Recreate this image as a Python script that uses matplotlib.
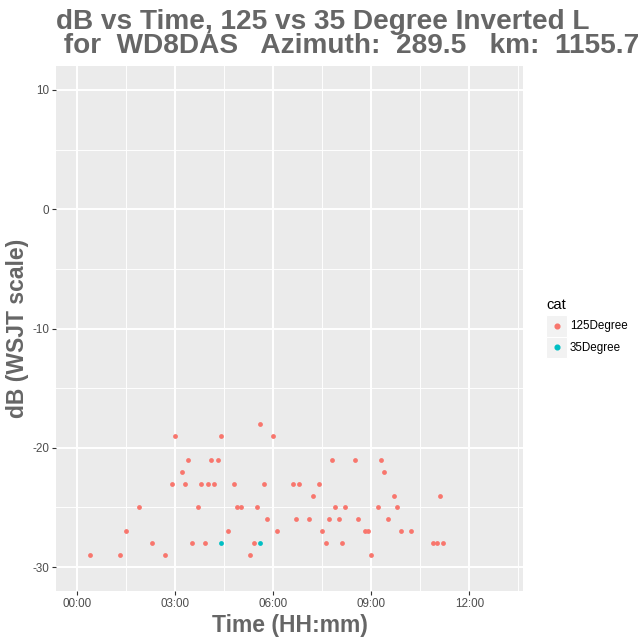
import matplotlib
matplotlib.use("Agg")
import matplotlib.pyplot as plt
from matplotlib.patches import Rectangle
from matplotlib.lines import Line2D

plt.rcParams['font.family'] = ['Liberation Sans', 'DejaVu Sans']

# ---- data ----
times_125 = ["00:24", "01:18", "01:30", "01:54", "02:18", "02:42", "02:54", "03:00",
             "03:12", "03:18", "03:24", "03:30", "03:42", "03:48", "03:54", "04:00",
             "04:06", "04:12", "04:18", "04:24", "04:36", "04:48", "04:54", "05:00",
             "05:18", "05:24", "05:30", "05:36", "05:42", "05:48", "06:00", "06:06",
             "06:36", "06:42", "06:48", "07:06", "07:12", "07:24", "07:30", "07:36",
             "07:42", "07:48", "07:54", "08:00", "08:06", "08:12", "08:30", "08:36",
             "08:48", "08:54", "09:00", "09:12", "09:18", "09:24", "09:30", "09:42",
             "09:48", "09:54", "10:12", "10:54", "11:00", "11:06", "11:12"]
db_125 = [-29, -29, -27, -25, -28, -29, -23, -19,
          -22, -23, -21, -28, -25, -23, -28, -23,
          -21, -23, -21, -19, -27, -23, -25, -25,
          -29, -28, -25, -18, -23, -26, -19, -27,
          -23, -26, -23, -26, -24, -23, -27, -28,
          -26, -21, -25, -26, -28, -25, -21, -26,
          -27, -27, -29, -25, -21, -22, -26, -24,
          -25, -27, -27, -28, -28, -24, -28]
times_35 = ["04:24", "05:36"]
db_35 = [-28, -28]

categories = ["125Degree", "35Degree"]
colors = ["#F8766D", "#00BFC4"]
x_tick_labels = ["00:00", "03:00", "06:00", "09:00", "12:00"]
y_ticks = [-30, -20, -10, 0, 10]

title = ("dB vs Time, 125 vs 35 Degree Inverted L\n"
         " for  WD8DAS   Azimuth:  289.5   km:  1155.7")
xlabel = "Time (HH:mm)"
ylabel = "dB (WSJT scale)"


def to_hours(s):
    h, m = s.split(":")
    return int(h) + int(m) / 60.0


x125 = [to_hours(t) for t in times_125]
x35 = [to_hours(t) for t in times_35]
xt = [to_hours(t) for t in x_tick_labels]

W, H = 640, 640
fig = plt.figure(figsize=(6.4, 6.4), dpi=100)
L, R, T, B = 56, 523.3, 66, 591
ax = fig.add_axes([L / W, 1 - B / H, (R - L) / W, (B - T) / H])
ax.set_facecolor("#EBEBEB")
for s in ax.spines.values():
    s.set_visible(False)

ax.set_xlim(-0.65, 13.65)
ax.set_ylim(-32, 12)
ax.set_xticks(xt)
ax.set_xticklabels(x_tick_labels)
ax.set_xticks([1.5, 4.5, 7.5, 10.5, 13.5], minor=True)
ax.set_yticks(y_ticks)
ax.set_yticklabels([str(v) for v in y_ticks])
ax.set_yticks([-25, -15, -5, 5], minor=True)
ax.grid(which="major", color="white", linewidth=1.37)
ax.grid(which="minor", color="white", linewidth=0.68)
ax.set_axisbelow(True)
ax.tick_params(which="major", length=2.7, width=0.8, color="#333333",
               labelcolor="#4D4D4D", labelsize=8.4, pad=2)
ax.tick_params(which="minor", length=0)

ax.scatter(x125, db_125, s=12, color=colors[0], linewidths=0, zorder=3)
ax.scatter(x35, db_35, s=12, color=colors[1], linewidths=0, zorder=3)

gray = "#666666"
fig.text(56.5 / W, 1 - 9 / H, title, ha="left", va="top", fontsize=20.2,
         fontweight="bold", color=gray, linespacing=0.9)
fig.text((L + R) / 2 / W, 1 - 632 / H, xlabel, ha="center", va="baseline",
         fontsize=16.5, fontweight="bold", color=gray)
fig.text(18 / W, 1 - (T + B) / 2 / H, ylabel, ha="center", va="center",
         rotation=90, fontsize=16.5, fontweight="bold", color=gray)

# legend
fig.text(546 / W, 1 - 305 / H, "cat", ha="left", va="center", fontsize=10.6,
         color="black")
for i, (cat, col) in enumerate(zip(categories, colors)):
    y0 = 315 + i * 21.6
    fig.add_artist(Rectangle((546 / W, 1 - (y0 + 21.6) / H), 21 / W, 21.6 / H,
                             transform=fig.transFigure, facecolor="#F2F2F2",
                             edgecolor="white", linewidth=0.8))
    fig.add_artist(Line2D([556.5 / W], [1 - (y0 + 10.8) / H], marker="o",
                          markersize=3.4, color=col, linestyle="none",
                          transform=fig.transFigure))
    fig.text(570 / W, 1 - (y0 + 11) / H, cat, ha="left", va="center",
             fontsize=8.4, color="black")

fig.savefig("out.png", dpi=100)
